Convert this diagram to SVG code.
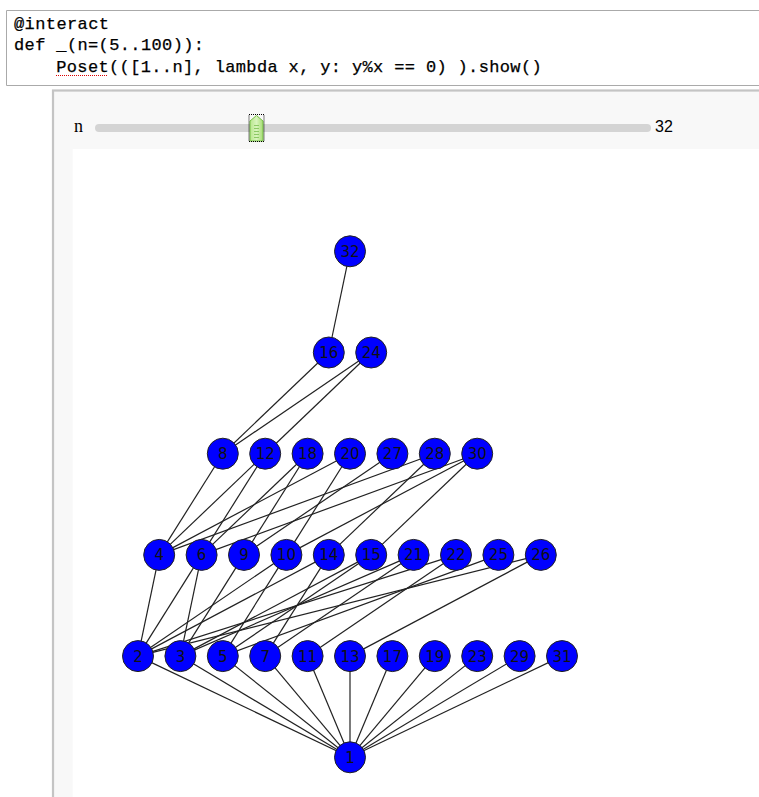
<svg xmlns="http://www.w3.org/2000/svg" width="759" height="797" viewBox="0 0 759 797">
<defs>
<style>
.code{font-family:"Liberation Mono","DejaVu Sans Mono",monospace;font-size:17px;fill:#000;stroke:#000;stroke-width:0.25}
.e line{stroke:#222;stroke-width:1.2}
.n circle{fill:#0000ff;stroke:#222;stroke-width:1}
.n text{font-family:"DejaVu Sans",sans-serif;font-size:15px;fill:#111;text-anchor:middle}
</style>
<linearGradient id="hg" x1="0" y1="0" x2="1" y2="0">
<stop offset="0" stop-color="#b8e68c"/>
<stop offset="0.5" stop-color="#d8f4bc"/>
<stop offset="1" stop-color="#a6dc74"/>
</linearGradient>
</defs>
<rect x="0" y="0" width="759" height="797" fill="#fff"/>
<!-- code cell -->
<g id="code">
<path d="M759,10.5 H6.5 V85.5 H759" fill="none" stroke="#aaa" stroke-width="1"/>
<text class="code" x="14" y="28.5" textLength="95" lengthAdjust="spacing">@interact</text>
<text class="code" x="14" y="50" textLength="190" lengthAdjust="spacing">def _(n=(5..100)):</text>
<text class="code" x="56.2" y="71.7" textLength="485.5" lengthAdjust="spacing">Poset(([1..n], lambda x, y: y%x == 0) ).show()</text>
<line x1="56" y1="75.5" x2="108" y2="75.5" stroke="#d00" stroke-width="1" stroke-dasharray="1,1"/>
</g>
<!-- output panel -->
<g id="panel">
<rect x="53" y="90.5" width="720" height="720" fill="#f8f8f8" stroke="#c4c4c4" stroke-width="2.2"/>
<rect x="72.7" y="149" width="700" height="660" fill="#fff"/>
</g>
<!-- slider -->
<g id="slider">
<text x="74" y="131.5" font-family="Liberation Serif,serif" font-size="18" fill="#000">n</text>
<rect x="95" y="124" width="556" height="8" rx="4" fill="#d4d4d4"/>
<path d="M250,141 V121 L256.5,115.5 L263,121 V141 Z" fill="url(#hg)" stroke="#74c044" stroke-width="1"/>
<g stroke="#8cc864" stroke-width="1">
<line x1="254" y1="125.5" x2="259" y2="125.5"/>
<line x1="254" y1="128.5" x2="259" y2="128.5"/>
<line x1="254" y1="131.5" x2="259" y2="131.5"/>
<line x1="254" y1="134.5" x2="259" y2="134.5"/>
<line x1="254" y1="137.5" x2="259" y2="137.5"/>
</g>
<rect x="249" y="114.5" width="15" height="27" fill="none" stroke="#000" stroke-width="1" stroke-dasharray="1,1"/>
<text x="655" y="131.5" font-family="Liberation Sans,Arial,sans-serif" font-size="16" fill="#000">32</text>
</g>
<!-- connectors -->
<g id="edges" class="e">
<line x1="350" y1="757.3" x2="138" y2="656.1"/>
<line x1="350" y1="757.3" x2="180.4" y2="656.1"/>
<line x1="350" y1="757.3" x2="222.8" y2="656.1"/>
<line x1="350" y1="757.3" x2="265.2" y2="656.1"/>
<line x1="350" y1="757.3" x2="307.6" y2="656.1"/>
<line x1="350" y1="757.3" x2="350" y2="656.1"/>
<line x1="350" y1="757.3" x2="392.4" y2="656.1"/>
<line x1="350" y1="757.3" x2="434.8" y2="656.1"/>
<line x1="350" y1="757.3" x2="477.2" y2="656.1"/>
<line x1="350" y1="757.3" x2="519.6" y2="656.1"/>
<line x1="350" y1="757.3" x2="562" y2="656.1"/>
<line x1="138" y1="656.1" x2="159.2" y2="554.9"/>
<line x1="138" y1="656.1" x2="201.6" y2="554.9"/>
<line x1="138" y1="656.1" x2="286.4" y2="554.9"/>
<line x1="138" y1="656.1" x2="328.8" y2="554.9"/>
<line x1="138" y1="656.1" x2="456" y2="554.9"/>
<line x1="138" y1="656.1" x2="540.8" y2="554.9"/>
<line x1="180.4" y1="656.1" x2="201.6" y2="554.9"/>
<line x1="180.4" y1="656.1" x2="244" y2="554.9"/>
<line x1="180.4" y1="656.1" x2="371.2" y2="554.9"/>
<line x1="180.4" y1="656.1" x2="413.6" y2="554.9"/>
<line x1="222.8" y1="656.1" x2="286.4" y2="554.9"/>
<line x1="222.8" y1="656.1" x2="371.2" y2="554.9"/>
<line x1="222.8" y1="656.1" x2="498.4" y2="554.9"/>
<line x1="265.2" y1="656.1" x2="328.8" y2="554.9"/>
<line x1="265.2" y1="656.1" x2="413.6" y2="554.9"/>
<line x1="307.6" y1="656.1" x2="456" y2="554.9"/>
<line x1="350" y1="656.1" x2="540.8" y2="554.9"/>
<line x1="159.2" y1="554.9" x2="222.8" y2="453.7"/>
<line x1="159.2" y1="554.9" x2="265.2" y2="453.7"/>
<line x1="159.2" y1="554.9" x2="350" y2="453.7"/>
<line x1="159.2" y1="554.9" x2="434.8" y2="453.7"/>
<line x1="201.6" y1="554.9" x2="265.2" y2="453.7"/>
<line x1="201.6" y1="554.9" x2="307.6" y2="453.7"/>
<line x1="201.6" y1="554.9" x2="477.2" y2="453.7"/>
<line x1="244" y1="554.9" x2="307.6" y2="453.7"/>
<line x1="244" y1="554.9" x2="392.4" y2="453.7"/>
<line x1="286.4" y1="554.9" x2="350" y2="453.7"/>
<line x1="286.4" y1="554.9" x2="477.2" y2="453.7"/>
<line x1="328.8" y1="554.9" x2="434.8" y2="453.7"/>
<line x1="371.2" y1="554.9" x2="477.2" y2="453.7"/>
<line x1="222.8" y1="453.7" x2="328.8" y2="352.5"/>
<line x1="222.8" y1="453.7" x2="371.2" y2="352.5"/>
<line x1="265.2" y1="453.7" x2="371.2" y2="352.5"/>
<line x1="328.8" y1="352.5" x2="350" y2="251.3"/>
</g>
<!-- nodes -->
<g id="n32" class="n"><circle cx="350" cy="251.3" r="15.5"/><text x="350" y="256.8">32</text></g>
<g id="n16" class="n"><circle cx="328.8" cy="352.5" r="15.5"/><text x="328.8" y="358">16</text></g>
<g id="n24" class="n"><circle cx="371.2" cy="352.5" r="15.5"/><text x="371.2" y="358">24</text></g>
<g id="n8" class="n"><circle cx="222.8" cy="453.7" r="15.5"/><text x="222.8" y="459.2">8</text></g>
<g id="n12" class="n"><circle cx="265.2" cy="453.7" r="15.5"/><text x="265.2" y="459.2">12</text></g>
<g id="n18" class="n"><circle cx="307.6" cy="453.7" r="15.5"/><text x="307.6" y="459.2">18</text></g>
<g id="n20" class="n"><circle cx="350" cy="453.7" r="15.5"/><text x="350" y="459.2">20</text></g>
<g id="n27" class="n"><circle cx="392.4" cy="453.7" r="15.5"/><text x="392.4" y="459.2">27</text></g>
<g id="n28" class="n"><circle cx="434.8" cy="453.7" r="15.5"/><text x="434.8" y="459.2">28</text></g>
<g id="n30" class="n"><circle cx="477.2" cy="453.7" r="15.5"/><text x="477.2" y="459.2">30</text></g>
<g id="n4" class="n"><circle cx="159.2" cy="554.9" r="15.5"/><text x="159.2" y="560.4">4</text></g>
<g id="n6" class="n"><circle cx="201.6" cy="554.9" r="15.5"/><text x="201.6" y="560.4">6</text></g>
<g id="n9" class="n"><circle cx="244" cy="554.9" r="15.5"/><text x="244" y="560.4">9</text></g>
<g id="n10" class="n"><circle cx="286.4" cy="554.9" r="15.5"/><text x="286.4" y="560.4">10</text></g>
<g id="n14" class="n"><circle cx="328.8" cy="554.9" r="15.5"/><text x="328.8" y="560.4">14</text></g>
<g id="n15" class="n"><circle cx="371.2" cy="554.9" r="15.5"/><text x="371.2" y="560.4">15</text></g>
<g id="n21" class="n"><circle cx="413.6" cy="554.9" r="15.5"/><text x="413.6" y="560.4">21</text></g>
<g id="n22" class="n"><circle cx="456" cy="554.9" r="15.5"/><text x="456" y="560.4">22</text></g>
<g id="n25" class="n"><circle cx="498.4" cy="554.9" r="15.5"/><text x="498.4" y="560.4">25</text></g>
<g id="n26" class="n"><circle cx="540.8" cy="554.9" r="15.5"/><text x="540.8" y="560.4">26</text></g>
<g id="n2" class="n"><circle cx="138" cy="656.1" r="15.5"/><text x="138" y="661.6">2</text></g>
<g id="n3" class="n"><circle cx="180.4" cy="656.1" r="15.5"/><text x="180.4" y="661.6">3</text></g>
<g id="n5" class="n"><circle cx="222.8" cy="656.1" r="15.5"/><text x="222.8" y="661.6">5</text></g>
<g id="n7" class="n"><circle cx="265.2" cy="656.1" r="15.5"/><text x="265.2" y="661.6">7</text></g>
<g id="n11" class="n"><circle cx="307.6" cy="656.1" r="15.5"/><text x="307.6" y="661.6">11</text></g>
<g id="n13" class="n"><circle cx="350" cy="656.1" r="15.5"/><text x="350" y="661.6">13</text></g>
<g id="n17" class="n"><circle cx="392.4" cy="656.1" r="15.5"/><text x="392.4" y="661.6">17</text></g>
<g id="n19" class="n"><circle cx="434.8" cy="656.1" r="15.5"/><text x="434.8" y="661.6">19</text></g>
<g id="n23" class="n"><circle cx="477.2" cy="656.1" r="15.5"/><text x="477.2" y="661.6">23</text></g>
<g id="n29" class="n"><circle cx="519.6" cy="656.1" r="15.5"/><text x="519.6" y="661.6">29</text></g>
<g id="n31" class="n"><circle cx="562" cy="656.1" r="15.5"/><text x="562" y="661.6">31</text></g>
<g id="n1" class="n"><circle cx="350" cy="757.3" r="15.5"/><text x="350" y="762.8">1</text></g>
</svg>
